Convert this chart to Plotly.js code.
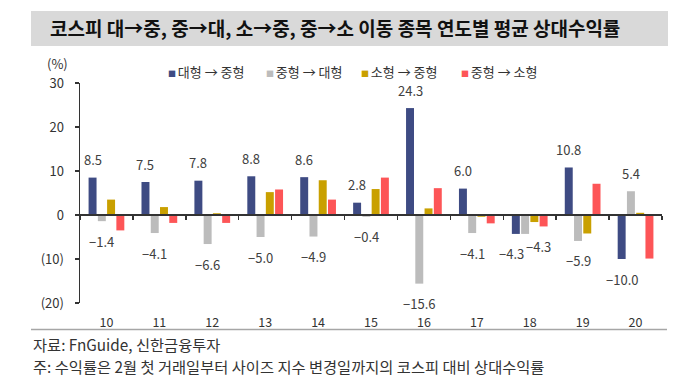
<!DOCTYPE html>
<html>
<head>
<meta charset="utf-8">
<script src="https://cdn.plot.ly/plotly-3.0.1.min.js"></script>
<style>
  html, body { margin: 0; padding: 0; background: #ffffff; }
  #chart { width: 689px; height: 388px; }
</style>
</head>
<body>
<div id="chart"></div>
<script>
// ---- data ----
const years = ['10', '11', '12', '13', '14', '15', '16', '17', '18', '19', '20'];
const seriesNames = ['대형 → 중형', '중형 → 대형', '소형 → 중형', '중형 → 소형'];
const largeToMid = [8.5, 7.5, 7.8, 8.8, 8.6, 2.8, 24.3, 6.0, -4.3, 10.8, -10.0];
const midToLarge = [-1.4, -4.1, -6.6, -5.0, -4.9, -0.4, -15.6, -4.1, -4.3, -5.9, 5.4];
const smallToMid = [3.5, 1.8, 0.4, 5.2, 7.9, 5.9, 1.5, -0.4, -1.6, -4.2, 0.5];
const midToSmall = [-3.5, -1.8, -1.8, 5.8, 3.5, 8.5, 6.1, -1.9, -2.6, 7.1, -9.9];
const yTickVals = [-20, -10, 0, 10, 20, 30];
const yTickText = ['(20)', '(10)', '0', '10', '20', '30'];
const titleText = '코스피 대→중, 중→대, 소→중, 중→소 이동 종목 연도별 평균 상대수익률';
const sourceText = '자료: FnGuide, 신한금융투자';
const noteText = '주: 수익률은 2월 첫 거래일부터 사이즈 지수 변경일까지의 코스피 대비 상대수익률';
const unitText = '(%)';

// ---- styling ----
const FONT = '"Noto Sans CJK KR", "Noto Sans", sans-serif';
const colors = ['#3e4b83', '#bcbcbc', '#c9a000', '#fd5557'];
const allSeries = [largeToMid, midToLarge, smallToMid, midToSmall];
const labelled = [true, true, false, false];
const legendLeft = [166, 264, 359, 459]; // px, left edge of each legend swatch

const bargap = 0.3;
const nSeries = allSeries.length;
const slot = (1 - bargap) / nSeries;

const traces = allSeries.map((vals, k) => ({
  type: 'bar',
  name: seriesNames[k],
  x: years,
  y: vals,
  marker: { color: colors[k], line: { width: 0 } },
  hoverinfo: 'x+y+name'
}));

function fmt(v) {
  const s = Math.abs(v).toFixed(1);
  return v < 0 ? '\u2212' + s : s;
}

const annotations = [];
allSeries.forEach((vals, k) => {
  if (!labelled[k]) return;
  const off = -(1 - bargap) / 2 + slot * (k + 0.5);
  vals.forEach((v, i) => {
    // the two equal labels of year 18 are nudged apart, as in the reference
    const crowded = years[i] === '18';
    let xs = 0, ys = v >= 0 ? 18 : -20;
    if (crowded && k === 0) { xs = -4; }
    if (crowded && k === 1) { xs = 13; ys += 7; }
    annotations.push({
      x: i + off, y: v, xref: 'x', yref: 'y',
      text: fmt(v), showarrow: false,
      xanchor: 'center', yanchor: 'middle',
      xshift: xs, yshift: ys,
      font: { family: FONT, size: 13, color: '#404040' }
    });
  });
});

// paper-coord helpers (plot area: x 80..662, y 83..303)
const L = 80, R = 662, T = 83, B = 303;
const px = (p) => (p - L) / (R - L);
const py = (p) => (B - p) / (B - T);

// legend (series names with colour swatches)
seriesNames.forEach((nm, k) => {
  annotations.push({
    xref: 'paper', yref: 'paper', x: px(legendLeft[k]), y: py(71),
    text: '<span style="color:' + colors[k] + ';font-size:8px">■ </span>' + nm,
    showarrow: false, xanchor: 'left', yanchor: 'middle',
    font: { family: FONT, size: 13, color: '#333333' }
  });
});

annotations.push({
  xref: 'paper', yref: 'paper', x: px(57), y: py(63),
  text: unitText, showarrow: false, xanchor: 'center', yanchor: 'middle',
  font: { family: FONT, size: 13, color: '#333333' }
});
annotations.push({
  xref: 'paper', yref: 'paper', x: px(31), y: py(344),
  text: sourceText, showarrow: false, xanchor: 'left', yanchor: 'middle',
  font: { family: FONT, size: 15.3, color: '#333333' }
});
annotations.push({
  xref: 'paper', yref: 'paper', x: px(31), y: py(366),
  text: noteText, showarrow: false, xanchor: 'left', yanchor: 'middle',
  font: { family: FONT, size: 15.3, color: '#333333' }
});

const layout = {
  width: 689, height: 388,
  margin: { l: L, r: 689 - R, t: T, b: 388 - B, pad: 0 },
  paper_bgcolor: '#ffffff', plot_bgcolor: '#ffffff',
  font: { family: FONT, size: 13, color: '#333333' },
  title: {
    text: titleText,
    xref: 'container', yref: 'container',
    x: 50 / 689, xanchor: 'left',
    y: 1 - 29 / 388, yanchor: 'middle',
    font: { family: FONT, size: 19, color: '#111111', weight: 'bold' }
  },
  barmode: 'group',
  bargap: bargap,
  bargroupgap: 0.14,
  showlegend: false,
  xaxis: {
    type: 'category',
    anchor: 'free', position: 0.4,
    tickson: 'boundaries',
    ticks: 'outside', ticklen: 4, tickwidth: 1.5, tickcolor: '#333333',
    showline: true, linecolor: '#333333', linewidth: 2,
    showgrid: false, zeroline: false,
    ticklabelstandoff: 96,
    tickfont: { family: FONT, size: 12.5, color: '#333333' },
    fixedrange: true
  },
  yaxis: {
    range: [-20, 30],
    tickvals: yTickVals, ticktext: yTickText,
    ticks: 'outside', ticklen: 4, tickwidth: 1.5, tickcolor: '#333333',
    showline: true, linecolor: '#333333', linewidth: 1.5,
    showgrid: false, zeroline: false,
    tickfont: { family: FONT, size: 13, color: '#333333' },
    ticklabelstandoff: 8,
    fixedrange: true
  },
  shapes: [
    { type: 'rect', xref: 'paper', yref: 'paper', layer: 'below',
      x0: px(31), x1: px(668), y0: py(46), y1: py(11),
      fillcolor: '#d9d9d9', line: { width: 0 } },
    { type: 'line', xref: 'paper', yref: 'paper',
      x0: px(31), x1: px(667), y0: py(329.5), y1: py(329.5),
      line: { color: '#a6a6a6', width: 1.5 } }
  ],
  annotations: annotations
};

Plotly.newPlot('chart', traces, layout, { displayModeBar: false, staticPlot: true });
</script>
</body>
</html>
